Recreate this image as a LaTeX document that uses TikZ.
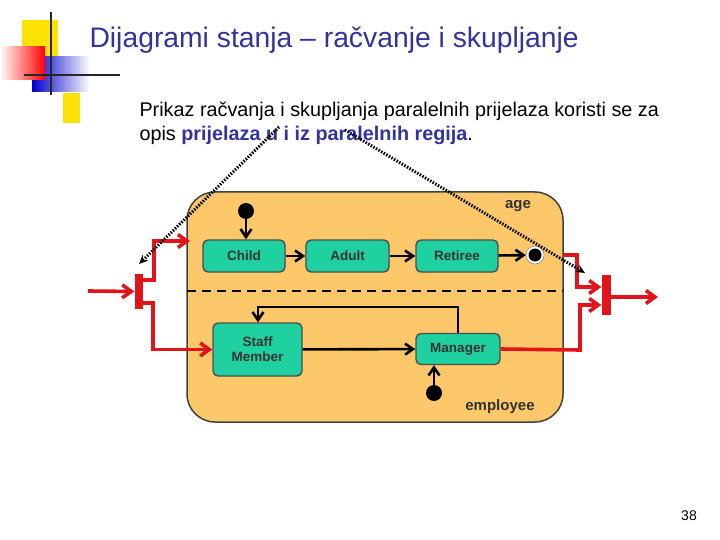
\documentclass[tikz,border=0pt]{standalone}
\usepackage{fontspec}
\setmainfont{Liberation Sans}
\usetikzlibrary{arrows.meta,shapes.geometric}
\definecolor{boxfill}{HTML}{FCC86A}
\definecolor{stfill}{HTML}{1FD1A0}
\definecolor{titleblue}{HTML}{333399}
\definecolor{redc}{HTML}{E0141A}
\begin{document}
\begin{tikzpicture}[x=1pt,y=-1pt,
  st/.style={draw=black!70,fill=stfill,rounded corners=5pt,line width=1.4pt,font=\bfseries\fontsize{13.5}{15}\selectfont,text=black!80,align=center,inner sep=0pt},
  ar/.style={-{Straight Barb[length=8pt,width=11pt]},line width=2.6pt},
  red/.style={-{Straight Barb[length=9pt,width=13pt]},line width=3.6pt,draw=redc},
  dot/.style={-{Stealth[length=9pt,width=8pt]},line width=3pt,dash pattern=on 1.5pt off 1.5pt},
  bar/.style={fill=redc,draw=none}]
\useasboundingbox (0,0) rectangle (720,540);
% logo
\fill[yellow!85!orange] (22,20) rectangle (58,58);
\fill[yellow!85!orange] (63,93) rectangle (80,123);
\shade[left color=blue!80!black,right color=white] (32,57) rectangle (90,92);
\shade[left color=white,right color=red] (0,47) rectangle (45,80);
\draw[line width=2.5pt,black!85] (51,12) -- (51,95);
\draw[line width=2.5pt,black!85] (24,75) -- (120,75);
% title
\node[anchor=west,text=titleblue,font=\fontsize{28.3}{31}\selectfont] (title) at (86,40) {Dijagrami stanja – račvanje i skupljanje};
\node[anchor=west,font=\fontsize{19.8}{22}\selectfont] (l1) at (136,111) {Prikaz račvanja i skupljanja paralelnih prijelaza koristi se za};
\node[anchor=west,font=\fontsize{19.8}{22}\selectfont] (l2) at (136,135) {opis \textcolor{titleblue}{\bfseries prijelaza u i iz paralelnih regija}.};
\node[font=\fontsize{14}{15}\selectfont] (pg) at (689,516) {38};
% box
\draw[fill=boxfill,draw=black!75,line width=1.5pt,rounded corners=28pt] (187,192) rectangle (563,422);
\draw[line width=2.6pt,dash pattern=on 9pt off 6pt] (187,291) -- (563,291);
\node[font=\bfseries\fontsize{15}{16}\selectfont,text=black!80] (age) at (518,206) {age};
\node[font=\bfseries\fontsize{15}{16}\selectfont,text=black!80] (emp) at (500,407) {employee};
\node[st,minimum width=82pt,minimum height=32pt] (child) at (244,256) {Child};
\node[st,minimum width=83pt,minimum height=32pt] (adult) at (347.5,256) {Adult};
\node[st,minimum width=82pt,minimum height=32pt] (ret) at (457,256) {Retiree};
\node[st,minimum width=89pt,minimum height=53pt] (staff) at (257.5,349.5) {Staff\\Member};
\node[st,minimum width=84pt,minimum height=31pt] (man) at (458,349) {Manager};
\node[circle,fill=black,minimum size=16pt,inner sep=0pt] (s1) at (246,211) {};
\node[circle,fill=black,minimum size=16pt,inner sep=0pt] (s2) at (434,393) {};
\node[circle,draw=black!60,fill=white,minimum size=18pt,inner sep=0pt] (fin) at (535,255) {};
\node[circle,fill=black,minimum size=13pt,inner sep=0pt] at (fin) {};
\draw[ar] (s1) -- (child.north -| s1);
\draw[ar] (child) -- (adult);
\draw[ar] (adult) -- (ret);
\draw[ar] (ret) -- (fin);
\draw[ar] (s2) -- (man.south -| s2);
\draw[ar] (staff) -- (man);
\coordinate (sk) at (258,307);
\draw[ar] (man.north) |- (sk) -- (staff.north -| sk);
% fork
\node[bar,minimum width=8pt,minimum height=35pt,inner sep=0pt] (fork) at (138.5,291.5) {};
\coordinate (fin0) at (88,291);
\draw[red] (fin0) -- (fork.west);
\draw[red] (fork.east |- 0,280) -- (154,280) |- (190,241);
\draw[red] (fork.east |- 0,303) -- (153,303) |- (staff.west);
% join
\node[bar,minimum width=9pt,minimum height=40pt,inner sep=0pt] (join) at (606,295) {};
\draw[red] (563,255) -- (577,255) |- (join.west |- 0,287);
\draw[red] (man.east) -- (580,350) |- (join.west |- 0,305);
\coordinate (jout) at (658,297);
\draw[red] (join.east |- jout) -- (jout);
% dotted
\coordinate (d1) at (279,127);
\coordinate (d2) at (345,130);
\coordinate (e1) at (139,264);
\coordinate (e2) at (585,273);
\draw[dot] (d1) -- (e1);
\draw[dot] (d2) -- (e2);
\end{tikzpicture}
\end{document}
